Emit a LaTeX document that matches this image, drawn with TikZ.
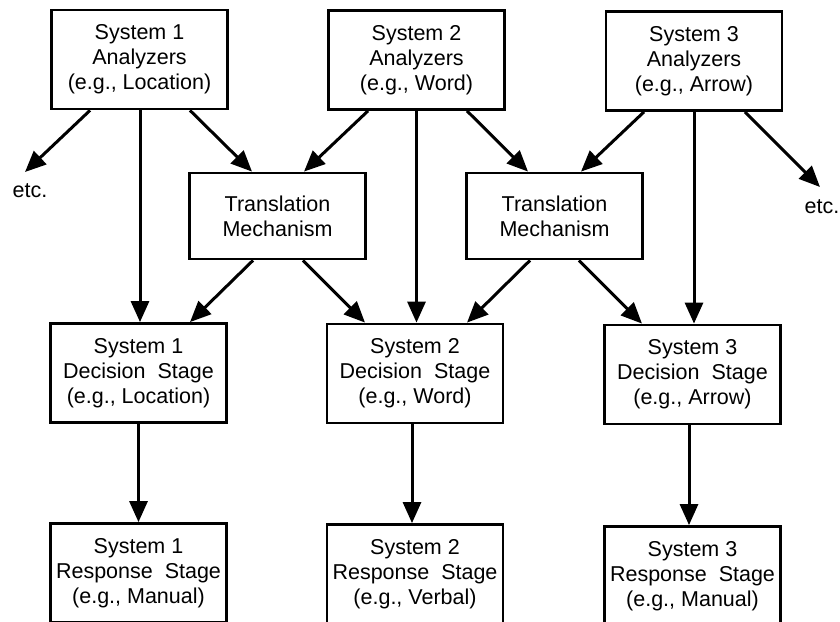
\documentclass[tikz,border=0pt]{standalone}
\usepackage{fontspec}
\setmainfont{Liberation Sans}
\usetikzlibrary{arrows.meta}
\begin{document}
\begin{tikzpicture}[x=1pt,y=-1pt,
  box/.style={draw=black,line width=2.8pt,align=center,inner sep=0pt,
    font=\fontsize{21.5}{25}\selectfont,minimum width=176pt,minimum height=99pt},
  tbox/.style={box,minimum height=86pt},
  lbl/.style={inner sep=0pt,font=\fontsize{21.5}{25}\selectfont},
  arr/.style={line width=3pt,-{Triangle[length=21pt,width=18pt]}}]
\useasboundingbox (0,0) rectangle (840,621);
\clip (0,0) rectangle (840,621);
\node[box] (A1) at (139.5,59.5) {System 1\\Analyzers\\(e.g., Location)};
\node[box] (A2) at (416.5,60) {System 2\\Analyzers\\(e.g., Word)};
\node[box] (A3) at (694,61) {System 3\\Analyzers\\(e.g., Arrow)};
\node[tbox] (T1) at (277.5,216) {Translation\\Mechanism};
\node[tbox] (T2) at (554.5,216) {Translation\\Mechanism};
\node[box] (D1) at (138.5,373) {System 1\\Decision\ \ Stage\\(e.g., Location)};
\node[box] (D2) at (415,373.5) {System 2\\Decision\ \ Stage\\(e.g., Word)};
\node[box] (D3) at (692.5,374.5) {System 3\\Decision\ \ Stage\\(e.g., Arrow)};
\node[box] (R1) at (138.5,573) {System 1\\Response\ \ Stage\\(e.g., Manual)};
\node[box] (R2) at (415,574) {System 2\\Response\ \ Stage\\(e.g., Verbal)};
\node[box] (R3) at (692.5,576) {System 3\\Response\ \ Stage\\(e.g., Manual)};
\node[lbl] (E1) at (30,191) {etc.};
\node[lbl] (E2) at (822,207) {etc.};
\coordinate (E1tip) at (25,172);
\coordinate (E2tip) at (820,187);
% top row out
\draw[arr] ([xshift=-49.5pt]A1.south) -- (E1tip);
\draw[arr] ([xshift=50.5pt]A1.south) -- ([xshift=-25.5pt]T1.north);
\draw[arr] ([xshift=-48.5pt]A2.south) -- ([xshift=26.5pt]T1.north);
\draw[arr] ([xshift=50.5pt]A2.south) -- ([xshift=-26.5pt]T2.north);
\draw[arr] ([xshift=-50pt]A3.south) -- ([xshift=26.5pt]T2.north);
\draw[arr] ([xshift=51pt]A3.south) -- (E2tip);
% verticals
\draw[arr] ([xshift=0.5pt]A1.south) -- ([xshift=0.5pt]A1.south |- D1.north);
\draw[arr] (A2.south) -- (A2.south |- D2.north);
\draw[arr] (A3.south) -- (A3.south |- D3.north);
% translation out
\draw[arr] ([xshift=-24.5pt]T1.south) -- ([xshift=51.5pt]D1.north);
\draw[arr] ([xshift=25.5pt]T1.south) -- ([xshift=-50pt]D2.north);
\draw[arr] ([xshift=-24.5pt]T2.south) -- ([xshift=52pt]D2.north);
\draw[arr] ([xshift=24.5pt]T2.south) -- ([xshift=-50.5pt]D3.north);
% decision to response
\draw[arr] (D1.south) -- (R1.north);
\draw[arr] ([xshift=-3pt]D2.south) -- ([xshift=-3pt]R2.north);
\draw[arr] ([xshift=-3.5pt]D3.south) -- ([xshift=-3.5pt]R3.north);
\end{tikzpicture}
\end{document}
